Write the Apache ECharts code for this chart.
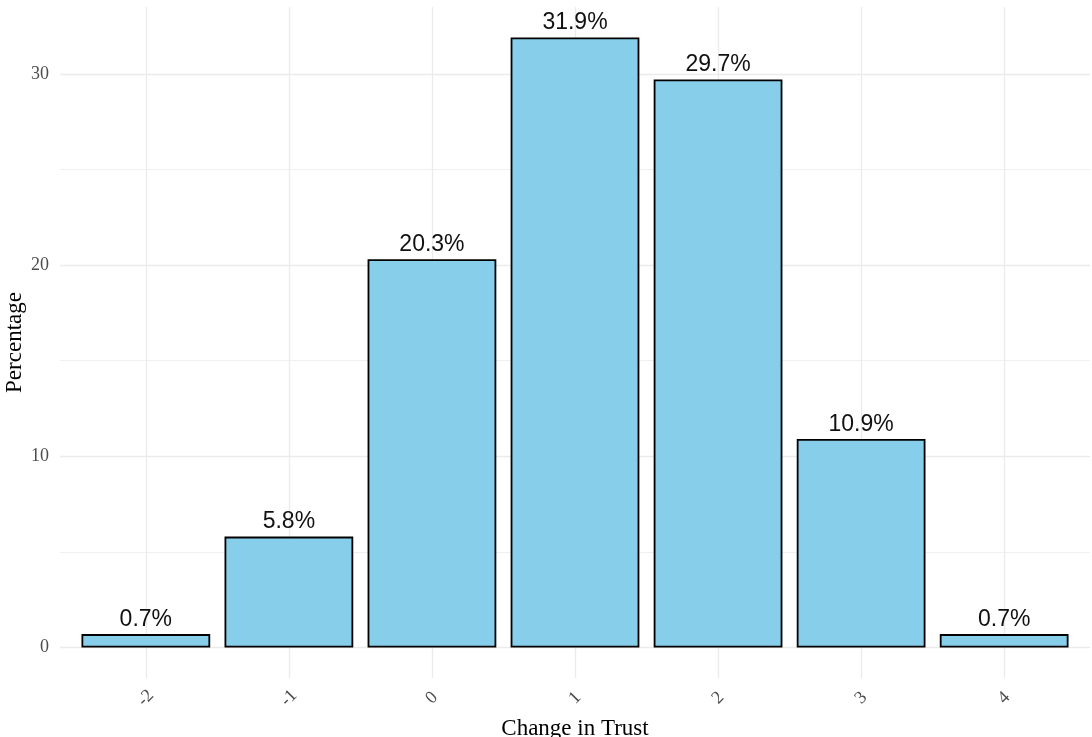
<!DOCTYPE html>
<html>
<head>
<meta charset="utf-8">
<script src="https://cdn.jsdelivr.net/npm/echarts@6/dist/echarts.min.js"></script>
<style>
html,body{margin:0;padding:0;background:#fff;}
#chart{width:1092px;height:737px;}
</style>
</head>
<body>
<div id="chart"></div>
<script>
// Data
const categories = [-2, -1, 0, 1, 2, 3, 4];
const percentages = [0.7, 5.8, 20.3, 31.9, 29.7, 10.9, 0.7];
const yTicks = [0, 10, 20, 30];
const yMinorTicks = [5, 15, 25];

const yMax = 31.9;
const pad = yMax * 0.05;

const barData = categories.map((c, i) => [c, percentages[i]]);

const chart = echarts.init(document.getElementById('chart'), null, {renderer: 'canvas'});
const gridColor = '#EBEBEB';

chart.setOption({
  backgroundColor: '#ffffff',
  animation: false,
  grid: {left: 60, right: 2, top: 7, bottom: 59, containLabel: false, outerBoundsMode: 'none'},
  xAxis: {
    type: 'value',
    min: categories[0] - 0.6,
    max: categories[categories.length - 1] + 0.6,
    axisLine: {show: false},
    axisTick: {show: false, customValues: categories},
    splitLine: {show: false},
    axisLabel: {
      customValues: categories,
      rotate: 45,
      align: 'center',
      verticalAlign: 'middle',
      margin: 20,
      color: '#4D4D4D',
      fontFamily: 'Liberation Serif',
      fontSize: 18
    },
    name: 'Change in Trust',
    nameLocation: 'middle',
    nameGap: 39,
    nameMoveOverlap: false,
    nameTextStyle: {fontFamily: 'Liberation Serif', fontSize: 23, color: '#000'}
  },
  yAxis: {
    type: 'value',
    min: -pad,
    max: yMax + pad,
    axisLine: {show: false},
    axisTick: {show: false, customValues: yTicks},
    splitLine: {show: false},
    axisLabel: {
      customValues: yTicks,
      margin: 11,
      color: '#4D4D4D',
      fontFamily: 'Liberation Serif',
      fontSize: 18
    },
    name: 'Percentage',
    nameLocation: 'middle',
    nameGap: 34,
    nameMoveOverlap: false,
    nameTextStyle: {fontFamily: 'Liberation Serif', fontSize: 23, color: '#000'}
  },
  series: [
    {
      type: 'line',
      data: [],
      silent: true,
      z: 0,
      markLine: {
        silent: true,
        symbol: 'none',
        z: 0,
        label: {show: false},
        lineStyle: {color: gridColor, type: 'solid', width: 1.3},
        data: [
          ...categories.map(c => ({xAxis: c})),
          ...yTicks.map(v => ({yAxis: v})),
          ...yMinorTicks.map(v => ({yAxis: v, lineStyle: {color: gridColor, width: 0.8, type: 'solid'}}))
        ]
      }
    },
    {
      type: 'bar',
      data: barData,
      barWidth: '90%',
      z: 3,
      itemStyle: {color: '#87CEEB', borderColor: '#000', borderWidth: 1.8},
      label: {
        show: true,
        position: 'top',
        distance: 3,
        color: '#111',
        fontFamily: 'Liberation Sans',
        fontSize: 23,
        formatter: p => p.value[1].toFixed(1) + '%'
      }
    }
  ]
});
</script>
</body>
</html>
